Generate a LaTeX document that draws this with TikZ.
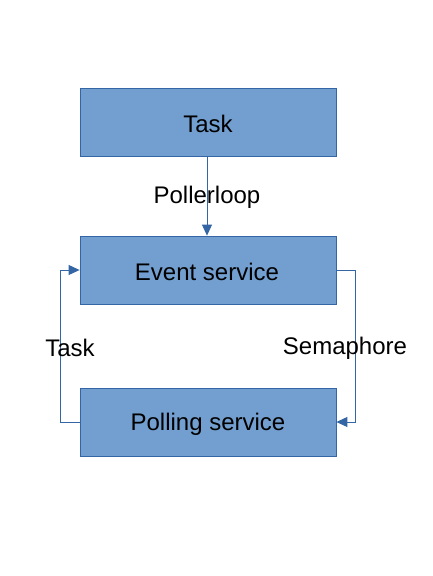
\documentclass[tikz,border=0pt]{standalone}
\usepackage{fontspec}
\setmainfont{Liberation Sans}
\usetikzlibrary{arrows.meta}
\definecolor{boxfill}{HTML}{729FCF}
\definecolor{boxline}{HTML}{3465A4}
\begin{document}
\begin{tikzpicture}[x=1pt,y=-1pt,
  box/.style={draw=boxline,fill=boxfill,line width=0.8pt,minimum width=256pt,minimum height=68pt,inner sep=0pt,font=\fontsize{24}{28}\selectfont},
  txt/.style={font=\fontsize{24}{28}\selectfont,inner sep=0pt},
  conn/.style={draw=boxline,line width=0.9pt,-{Triangle[length=11pt,width=10pt]}},
  lbl/.style={font=\fontsize{24}{28}\selectfont,inner sep=0pt}]
\useasboundingbox (0,0) rectangle (432,576);
\node[box] (task) at (208,122) {};
\node[box] (event) at (208,270) {};
\node[box] (poll) at (208,422) {};
\node[txt] (taskt) at (208,124) {Task};
\node[txt] (eventt) at (207,272) {Event service};
\node[txt] (pollt) at (208,424) {Polling service};
\coordinate (rc) at (355,0);
\coordinate (lc) at (60,0);
\draw[conn] (task.south -| 207,0) -- (event.north -| 207,0);
\draw[conn] (event.east) -- (event.east -| rc) -- (poll.east -| rc) -- (poll.east);
\draw[conn] (poll.west) -- (poll.west -| lc) -- (event.west -| lc) -- (event.west);
\node[lbl] (pl) at (207,197) {Pollerloop};
\node[lbl] (tl) at (70,348) {Task};
\node[lbl] (sl) at (345,348) {Semaphore};
\end{tikzpicture}
\end{document}
